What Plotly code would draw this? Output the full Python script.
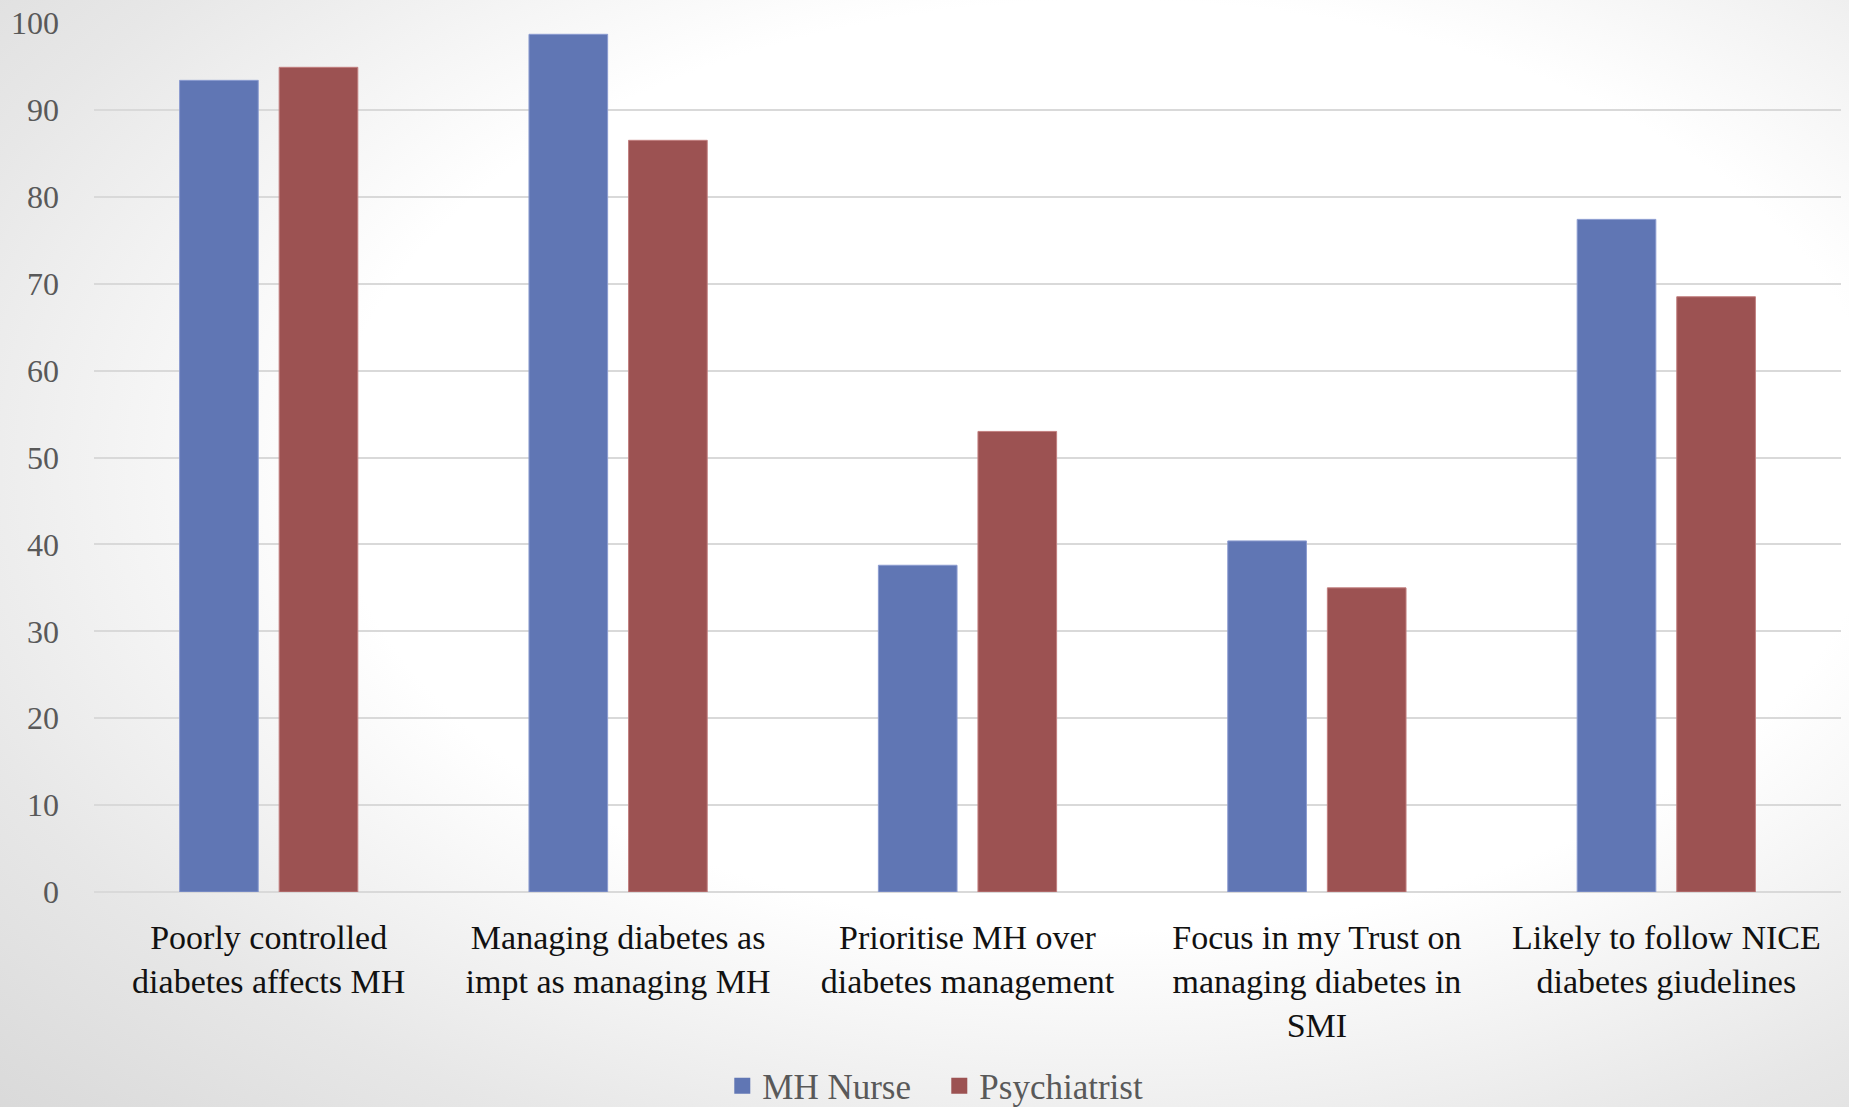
import base64
import plotly.graph_objects as go

# Survey statements (x-axis categories)
categories = [
    "Poorly controlled<br>diabetes affects MH",
    "Managing diabetes as<br>impt as managing MH",
    "Prioritise MH over<br>diabetes management",
    "Focus in my Trust on<br>managing diabetes in<br>SMI",
    "Likely to follow NICE<br>diabetes giudelines",
]

# Percentage agreeing, by professional group
mh_nurse = [93.4, 98.7, 37.6, 40.4, 77.4]
psychiatrist = [94.9, 86.5, 53.0, 35.0, 68.5]

series_names = ["MH Nurse", "Psychiatrist"]
series_colors = ["#6076B4", "#9C5252"]
edge_colors = ["#8B9BD0", "#C27F7F"]

y_ticks = [0, 10, 20, 30, 40, 50, 60, 70, 80, 90, 100]

W, H = 1849, 1107
M_L, M_R, M_T, M_B = 94, 8, 23, 215

# Soft radial backdrop behind the whole chart
svg = f"""<svg xmlns='http://www.w3.org/2000/svg' width='{W}' height='{H}' viewBox='0 0 {W} {H}' preserveAspectRatio='none'>
<defs><radialGradient id='g' cx='0.6' cy='0.42' r='1' gradientUnits='objectBoundingBox'>
<stop offset='0' stop-color='#ffffff'/>
<stop offset='0.42' stop-color='#ffffff'/>
<stop offset='0.55' stop-color='#f2f2f2'/>
<stop offset='0.66' stop-color='#e7e7e7'/>
<stop offset='0.8' stop-color='#dcdcdc'/>
<stop offset='0.95' stop-color='#d2d2d2'/>
<stop offset='1' stop-color='#d0d0d0'/>
</radialGradient></defs>
<rect width='{W}' height='{H}' fill='url(#g)'/></svg>"""
bg_src = "data:image/svg+xml;base64," + base64.b64encode(svg.encode()).decode()

pw = W - M_L - M_R
ph = H - M_T - M_B

fig = go.Figure()
for name, vals, col, edge in zip(series_names, [mh_nurse, psychiatrist],
                                 series_colors, edge_colors):
    fig.add_trace(go.Bar(
        name=name, x=categories, y=vals, legendgroup=name, showlegend=False,
        marker=dict(color=col, line=dict(color=edge, width=1)),
    ))
# Legend keys with larger square swatches
for name, col in zip(series_names, series_colors):
    fig.add_trace(go.Scatter(
        name=name, x=[None], y=[None], mode="markers", legendgroup=name,
        marker=dict(symbol="square", size=16, color=col),
    ))

fig.update_layout(
    width=W, height=H,
    margin=dict(l=M_L, r=M_R, t=M_T, b=M_B, autoexpand=False),
    paper_bgcolor="rgba(0,0,0,0)",
    plot_bgcolor="rgba(0,0,0,0)",
    barmode="group",
    bargap=0.43,
    bargroupgap=0.21,
    font=dict(family="Liberation Serif", color="#595959"),
    showlegend=True,
    legend=dict(
        orientation="h", x=0.508, xanchor="center", xref="container",
        y=1 - 1086 / H, yanchor="middle", yref="container",
        font=dict(size=35, color="#595959"), itemsizing="trace",
        bgcolor="rgba(0,0,0,0)", entrywidth=172,
    ),
    images=[dict(
        source=bg_src, xref="paper", yref="paper",
        x=-M_L / pw, y=1 + M_T / ph, sizex=W / pw, sizey=H / ph,
        xanchor="left", yanchor="top", sizing="stretch", layer="below",
    )],
)

fig.update_xaxes(
    tickfont=dict(size=34, color="#111111"),
    showgrid=False, showline=False, ticks="", ticklabelstandoff=22,
    automargin=False,
)
fig.update_yaxes(
    range=[0, 100], tickvals=y_ticks,
    tickfont=dict(size=32, color="#595959"),
    showgrid=True, gridcolor="#D9D9D9", gridwidth=2,
    zeroline=True, zerolinecolor="#D9D9D9", zerolinewidth=2,
    showline=False, ticks="", ticklabelstandoff=34,
    automargin=False,
)

fig.write_html("out.html")
